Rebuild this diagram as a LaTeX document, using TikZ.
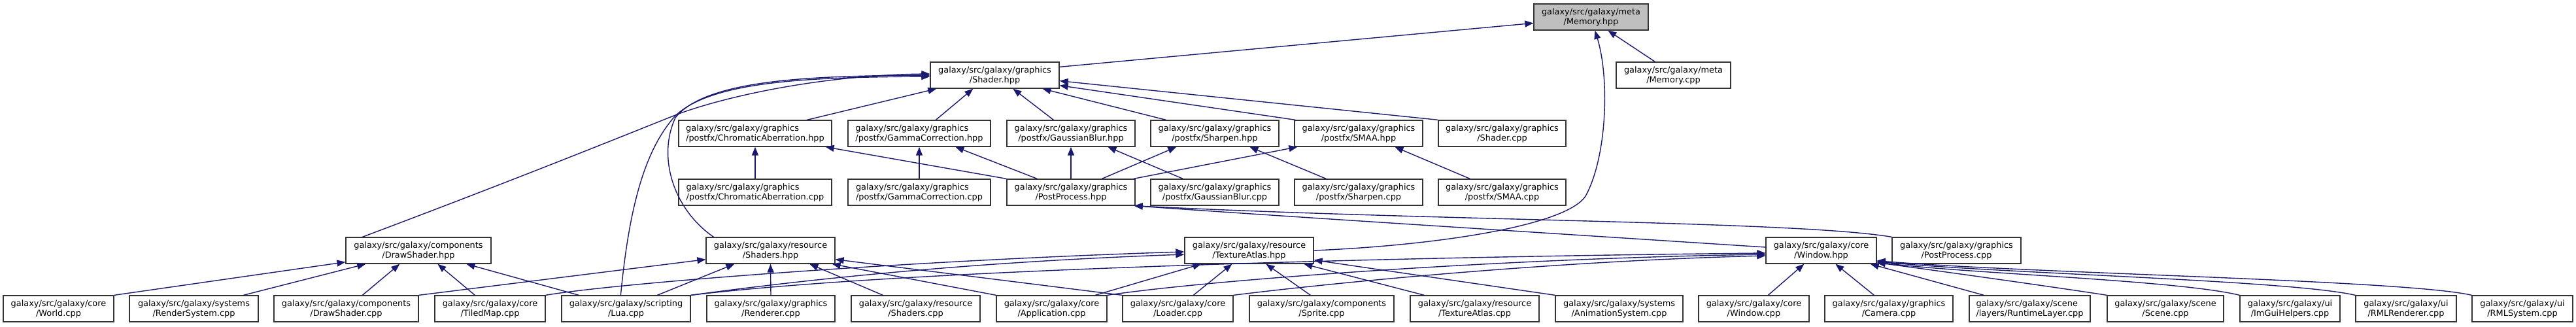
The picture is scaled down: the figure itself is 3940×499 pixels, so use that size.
\documentclass[tikz,border=0pt]{standalone}
\usepackage{fontspec}
\setmainfont{DejaVu Sans}
\usetikzlibrary{arrows.meta}
\definecolor{edgec}{RGB}{25,25,112}
\definecolor{nodegray}{RGB}{191,191,191}
\begin{document}
\begin{tikzpicture}[x=1pt,y=-1pt,
  box/.style={draw=black!80, line width=1.3pt, fill=white, minimum height=40pt, inner sep=0pt, align=center, font=\fontsize{12.9pt}{15pt}\selectfont},
  lbox/.style={box, align=left},
  dep/.style={draw=edgec, line width=1.4pt, -{Triangle[length=13pt,width=10pt]}},
]
\useasboundingbox (0,0) rectangle (3940,499);
% row 1
\node[box, fill=nodegray, minimum width=175pt] (memh) at (2433.5,26) {galaxy/src/galaxy/meta\\/Memory.hpp};
% row 2
\node[box, minimum width=197pt] (shaderh) at (1521.5,115) {galaxy/src/galaxy/graphics\\/Shader.hpp};
\node[box, minimum width=175pt] (memcpp) at (2559.5,115) {galaxy/src/galaxy/meta\\/Memory.cpp};
% row 3
\node[lbox, minimum width=234pt] (chromh) at (1155,204) {galaxy/src/galaxy/graphics\\/postfx/ChromaticAberration.hpp};
\node[lbox, minimum width=218pt] (gammah) at (1406,204) {galaxy/src/galaxy/graphics\\/postfx/GammaCorrection.hpp};
\node[box, minimum width=196pt] (gaussh) at (1638,204) {galaxy/src/galaxy/graphics\\/postfx/GaussianBlur.hpp};
\node[box, minimum width=196pt] (sharph) at (1858,204) {galaxy/src/galaxy/graphics\\/postfx/Sharpen.hpp};
\node[box, minimum width=196pt] (smaah) at (2078,204) {galaxy/src/galaxy/graphics\\/postfx/SMAA.hpp};
\node[box, minimum width=195pt] (shadercpp) at (2297.5,204) {galaxy/src/galaxy/graphics\\/Shader.cpp};
% row 4
\node[lbox, minimum width=234pt] (chromcpp) at (1155,294) {galaxy/src/galaxy/graphics\\/postfx/ChromaticAberration.cpp};
\node[lbox, minimum width=218pt] (gammacpp) at (1406,294) {galaxy/src/galaxy/graphics\\/postfx/GammaCorrection.cpp};
\node[box, minimum width=196pt] (pph) at (1638,294) {galaxy/src/galaxy/graphics\\/PostProcess.hpp};
\node[box, minimum width=196pt] (gausscpp) at (1858,294) {galaxy/src/galaxy/graphics\\/postfx/GaussianBlur.cpp};
\node[box, minimum width=196pt] (sharpcpp) at (2078,294) {galaxy/src/galaxy/graphics\\/postfx/Sharpen.cpp};
\node[box, minimum width=195pt] (smaacpp) at (2297.5,294) {galaxy/src/galaxy/graphics\\/postfx/SMAA.cpp};
% row 5
\node[box, minimum width=222pt] (dsh) at (640,383) {galaxy/src/galaxy/components\\/DrawShader.hpp};
\node[box, minimum width=197pt] (shadersh) at (1178.5,383) {galaxy/src/galaxy/resource\\/Shaders.hpp};
\node[box, minimum width=197pt] (texh) at (1910.5,383) {galaxy/src/galaxy/resource\\/TextureAtlas.hpp};
\node[box, minimum width=169pt] (wh) at (2785.5,383) {galaxy/src/galaxy/core\\/Window.hpp};
\node[box, minimum width=197pt] (ppcpp) at (2992.5,383) {galaxy/src/galaxy/graphics\\/PostProcess.cpp};
% row 6
\node[box, minimum width=169pt] (world) at (89.5,472) {galaxy/src/galaxy/core\\/World.cpp};
\node[box, minimum width=197pt] (rendersys) at (296.5,472) {galaxy/src/galaxy/systems\\/RenderSystem.cpp};
\node[box, minimum width=221pt] (dscpp) at (529.5,472) {galaxy/src/galaxy/components\\/DrawShader.cpp};
\node[box, minimum width=169pt] (tiled) at (749.5,472) {galaxy/src/galaxy/core\\/TiledMap.cpp};
\node[box, minimum width=197pt] (lua) at (957.5,472) {galaxy/src/galaxy/scripting\\/Lua.cpp};
\node[box, minimum width=196pt] (renderer) at (1179,472) {galaxy/src/galaxy/graphics\\/Renderer.cpp};
\node[box, minimum width=197pt] (shaderscpp) at (1400.5,472) {galaxy/src/galaxy/resource\\/Shaders.cpp};
\node[box, minimum width=169pt] (app) at (1608.5,472) {galaxy/src/galaxy/core\\/Application.cpp};
\node[box, minimum width=169pt] (loader) at (1801.5,472) {galaxy/src/galaxy/core\\/Loader.cpp};
\node[box, minimum width=221pt] (sprite) at (2021.5,472) {galaxy/src/galaxy/components\\/Sprite.cpp};
\node[box, minimum width=197pt] (texcpp) at (2255.5,472) {galaxy/src/galaxy/resource\\/TextureAtlas.cpp};
\node[box, minimum width=195pt] (anim) at (2476.5,472) {galaxy/src/galaxy/systems\\/AnimationSystem.cpp};
\node[box, minimum width=169pt] (wincpp) at (2682.5,472) {galaxy/src/galaxy/core\\/Window.cpp};
\node[box, minimum width=196pt] (camera) at (2889,472) {galaxy/src/galaxy/graphics\\/Camera.cpp};
\node[lbox, minimum width=185pt] (runtime) at (3104.5,472) {galaxy/src/galaxy/scene\\/layers/RuntimeLayer.cpp};
\node[box, minimum width=178pt] (scene) at (3312,472) {galaxy/src/galaxy/scene\\/Scene.cpp};
\node[box, minimum width=153pt] (imgui) at (3502.5,472) {galaxy/src/galaxy/ui\\/ImGuiHelpers.cpp};
\node[box, minimum width=154pt] (rmlr) at (3680,472) {galaxy/src/galaxy/ui\\/RMLRenderer.cpp};
\node[box, minimum width=154pt] (rmls) at (3858,472) {galaxy/src/galaxy/ui\\/RMLSystem.cpp};

% edges into Memory.hpp
\draw[dep] ([yshift=-8pt]shaderh.north east) -- ([yshift=-30pt]memh.north west);
\draw[dep] ([xshift=60pt]memcpp.north west) -- ([xshift=114pt]memh.south west);
\draw[dep] (texh.east) .. controls (2200,375) and (2395,345) .. (2425,300) .. controls (2458,240) and (2462,120) .. ([xshift=6pt]memh.south);
% edges into Shader.hpp
\draw[dep] ([xshift=197pt]chromh.north west) -- ([xshift=10pt]shaderh.south west);
\draw[dep] ([xshift=135pt]gammah.north west) -- ([xshift=66pt]shaderh.south west);
\draw[dep] ([xshift=72pt]gaussh.north west) -- ([xshift=127pt]shaderh.south west);
\draw[dep] ([xshift=24pt]sharph.north west) -- ([xshift=172pt]shaderh.south west);
\draw[dep] ([xshift=2pt]smaah.north west) -- ([yshift=5pt]shaderh.south east);
\draw[dep] (shadercpp.north west) -- ([yshift=12pt]shaderh.south east);
\draw[dep] ([xshift=26pt]dsh.north west) .. controls (800,270) and (960,205) .. (1033,176) .. controls (1100,150) and (1250,115) .. ([yshift=2pt]shaderh.west);
\draw[dep] ([xshift=12pt]shadersh.north west) .. controls (1030,320) and (1005,240) .. (1033,180) .. controls (1080,120) and (1250,116) .. (shaderh.west);
\draw[dep] ([xshift=91pt]lua.north west) .. controls (962,320) and (985,230) .. (1033,177) .. controls (1090,122) and (1250,118) .. ([yshift=-2pt]shaderh.west);
% postfx headers
\draw[dep] (chromcpp.north) -- (chromh.south);
\draw[dep] (pph.north west) -- ([xshift=-10pt]chromh.south east);
\draw[dep] (gammacpp.north) -- (gammah.south);
\draw[dep] ([xshift=47pt]pph.north west) -- ([xshift=165pt]gammah.south west);
\draw[dep] (pph.north) -- (gaussh.south);
\draw[dep] ([xshift=50pt]gausscpp.north west) -- ([xshift=155pt]gaussh.south west);
\draw[dep] ([xshift=146pt]pph.north west) -- ([xshift=40pt]sharph.south west);
\draw[dep] ([xshift=49pt]sharpcpp.north west) -- ([xshift=152pt]sharph.south west);
\draw[dep] ([xshift=-3pt]pph.north east) -- ([xshift=5pt]smaah.south west);
\draw[dep] ([xshift=49pt]smaacpp.north west) -- ([xshift=154pt]smaah.south west);
% into PostProcess.hpp
\draw[dep] ([yshift=5pt]wh.west) .. controls (2300,352) and (1950,330) .. ([xshift=-2pt]pph.south east);
\draw[dep] (ppcpp.north west) .. controls (2750,338) and (2200,338) .. ([xshift=-2pt]pph.south east);
% into DrawShader.hpp
\draw[dep] (world.north east) -- ([yshift=3pt]dsh.south west);
\draw[dep] ([xshift=175pt]rendersys.north west) -- ([xshift=31pt]dsh.south west);
\draw[dep] ([xshift=136pt]dscpp.north west) -- ([xshift=83pt]dsh.south west);
\draw[dep] ([xshift=62pt]tiled.north west) -- ([xshift=141pt]dsh.south west);
\draw[dep] ([xshift=27pt]lua.north west) -- ([xshift=185pt]dsh.south west);
% into Shaders.hpp
\draw[dep] (dscpp.north east) -- ([yshift=7pt]shadersh.south west);
\draw[dep] ([xshift=147pt]lua.north west) -- ([xshift=44pt]shadersh.south west);
\draw[dep] (renderer.north) -- (shadersh.south);
\draw[dep] ([xshift=49pt]shaderscpp.north west) -- ([xshift=159pt]shadersh.south west);
\draw[dep] (app.north west) -- ([xshift=-5pt]shadersh.south east);
\draw[dep] (loader.north west) -- ([yshift=7pt]shadersh.south east);
% into TextureAtlas.hpp
\draw[dep] (tiled.north east) .. controls (950,432) and (1400,398) .. ([yshift=-2pt]texh.west);
\draw[dep] (lua.north east) .. controls (1250,425) and (1500,400) .. ([yshift=-6pt]texh.west);
\draw[dep] ([xshift=152pt]app.north west) -- ([xshift=26pt]texh.south west);
\draw[dep] ([xshift=109pt]loader.north west) -- ([xshift=73pt]texh.south west);
\draw[dep] ([xshift=94pt]sprite.north west) -- ([xshift=125pt]texh.south west);
\draw[dep] ([xshift=22pt]texcpp.north west) -- ([xshift=183pt]texh.south west);
\draw[dep] (anim.north west) -- ([yshift=6pt]texh.south east);
% into Window.hpp
\draw[dep] (lua.north east) .. controls (1400,410) and (2200,392) .. ([yshift=-4pt]wh.west);
\draw[dep] (app.north east) .. controls (1850,428) and (2300,395) .. ([yshift=-6pt]wh.west);
\draw[dep] (loader.north east) .. controls (2000,437) and (2350,400) .. ([yshift=-8pt]wh.west);
\draw[dep] ([xshift=107pt]wincpp.north west) -- ([xshift=59pt]wh.south west);
\draw[dep] ([xshift=76pt]camera.north west) -- ([xshift=107pt]wh.south west);
\draw[dep] ([xshift=23pt]runtime.north west) -- ([xshift=-10pt]wh.south east);
\draw[dep] (scene.north west) .. controls (3150,440) and (2950,412) .. ([yshift=2pt]wh.south east);
\draw[dep] (imgui.north west) .. controls (3330,428) and (3000,418) .. ([yshift=3pt]wh.south east);
\draw[dep] (rmlr.north west) .. controls (3500,428) and (3050,418) .. ([yshift=4pt]wh.south east);
\draw[dep] (rmls.north west) .. controls (3680,428) and (3100,418) .. ([yshift=5pt]wh.south east);
\end{tikzpicture}
\end{document}
